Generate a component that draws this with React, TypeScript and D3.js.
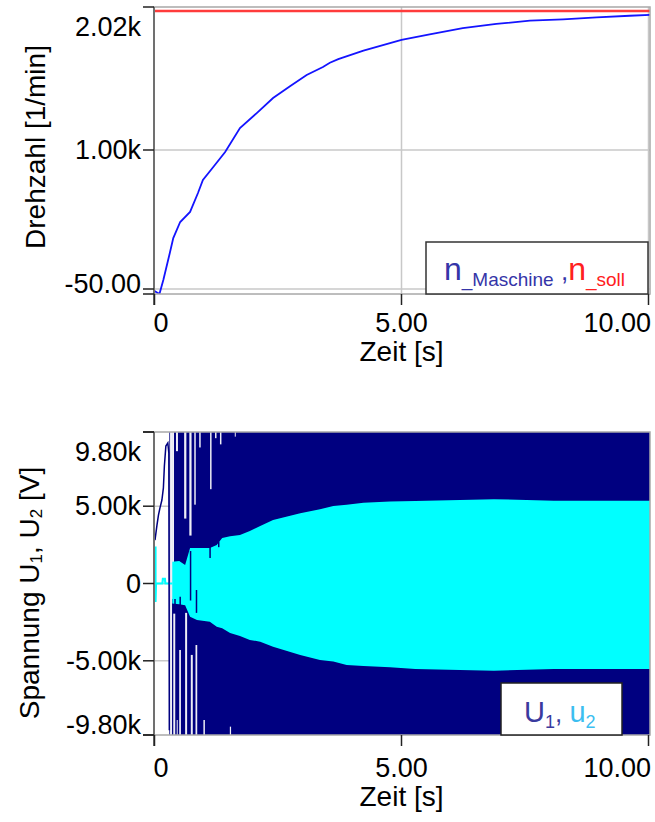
import React from "react";
import * as d3 from "d3";

// --- Drehzahl (oben) ---
const nTime = [0, 0.1, 0.18, 0.31, 0.38, 0.52, 0.72, 0.88, 0.98, 1.19, 1.43, 1.73, 2.07, 2.4, 2.75, 3.08, 3.41, 3.55, 3.72, 4.23, 5.0, 5.57, 6.24, 6.92, 7.6, 8.27, 8.95, 9.62, 10.03];
const nMaschine = [-65, -88, 20, 222, 335, 456, 532, 675, 773, 872, 985, 1166, 1279, 1393, 1483, 1567, 1627, 1659, 1687, 1750, 1831, 1874, 1920, 1952, 1977, 1987, 2002, 2014, 2020];
const nSollTime = [0, 10.05];
const nSoll = [2050, 2050];
const topYTicks = [-50, 1000];
const topYLabels = ["-50.00", "1.00k"];
const topYMaxLabel = "2.02k";

// --- Spannung (unten) ---
const u1StartT = [0.01, 0.05, 0.08, 0.11, 0.15, 0.18, 0.2, 0.23, 0.27, 0.29, 0.3];
const u1Start = [2800, 3780, 4430, 4880, 5400, 6180, 7600, 8890, 9090, 8440, -9500];
const u1BandT = [0.3, 10.04];
// white gaps in the U1 band: [t0, t1, vHigh, vLow]
const u1Gaps = [
  [0.315, 0.355, 9800, -9800],
  [0.355, 0.395, 9800, -1000],
  [0.38, 0.42, -1950, -9800],
  [0.435, 0.475, 9800, 8560],
  [0.45, 0.47, -8830, -9800],
  [0.5, 0.535, -4300, -9800],
  [0.6, 0.645, 9800, 4200],
  [0.62, 0.66, -1900, -9800],
  [0.705, 0.75, 9800, 3100],
  [0.735, 0.775, -4620, -9800],
  [0.805, 0.835, 9800, 5100],
  [0.83, 0.865, -3980, -9800],
  [0.905, 0.935, 9800, 8800],
  [0.99, 1.02, -8830, -9800],
  [1.125, 1.155, 9800, 6100],
  [1.225, 1.255, 9800, 9400],
  [1.325, 1.355, 9800, 9000],
  [1.525, 1.55, -9260, -9800],
  [1.625, 1.645, 9800, 9500],
];
// U1 strokes crossing the u2 band: [t, v0, v1]
const u1Spikes = [
  [0.415, -1000, -1500],
  [0.52, -850, -1500],
  [0.73, 2100, -1100],
  [0.85, -420, -1900],
  [1.125, 2430, 1650],
  [1.3, 2700, 2350],
];
const u2StartT = [0.02, 0.02, 0.03, 0.16, 0.17, 0.21, 0.22, 0.36];
const u2Start = [2400, -1200, 0, 0, 300, 300, 0, 0];
const u2EnvT = [0.36, 0.5, 0.62, 0.72, 0.86, 1.12, 1.26, 1.37, 1.53, 1.73, 1.93, 2.14, 2.4, 2.95, 3.35, 3.62, 3.89, 4.23, 4.77, 5.28, 6.87, 8.08, 10.04];
const u2Upper = [1400, 1450, 1200, 2300, 2300, 2300, 2490, 2940, 3050, 3140, 3400, 3720, 4110, 4540, 4800, 5010, 5100, 5230, 5300, 5340, 5450, 5360, 5360];
const u2Lower = [-1300, -1350, -1400, -2150, -2360, -2470, -2790, -2900, -3200, -3400, -3650, -3760, -4090, -4620, -4950, -5050, -5270, -5330, -5420, -5530, -5640, -5530, -5530];
const botYTicks = [9800, 5000, 0, -5000, -9800];
const botYLabels = ["9.80k", "5.00k", "0", "-5.00k", "-9.80k"];

const xTicks = [0, 5, 10];
const xLabels = ["0", "5.00", "10.00"];

const FONT = "'Liberation Sans', Arial, sans-serif";
const LEFT = 154;
const RIGHT = 650;

const x = d3.scaleLinear().domain([0, 10]).range([154.5, 648.5]);

function Axes({ top, bottom, yPos, labels, maxLabel, shift }: any) {
  return (
    <g fontFamily={FONT} fontSize={27} fill="#000">
      <rect x={LEFT} y={top} width={RIGHT - LEFT} height={bottom - top} fill="none" stroke="#a8a8a8" strokeWidth={1.5} />
      <line x1={LEFT} x2={LEFT} y1={top} y2={bottom + 11} stroke="#707070" strokeWidth={2} />
      {[top, bottom].map((y, i) => (
        <line key={"e" + i} x1={143} x2={LEFT} y1={y} y2={y} stroke="#222" strokeWidth={1.5} />
      ))}
      {yPos.map((y: number, i: number) => (
        <line key={"t" + i} x1={143} x2={LEFT} y1={y} y2={y} stroke="#222" strokeWidth={1.5} />
      ))}
      {yPos.map((y: number, i: number) => (
        <text key={"l" + i} x={141} y={Math.max(top + 20, Math.min(bottom - 10, y))} textAnchor="end" dominantBaseline="central">
          {labels[i]}
        </text>
      ))}
      {maxLabel && (
        <text x={141} y={top + 20} textAnchor="end" dominantBaseline="central">
          {maxLabel}
        </text>
      )}
      {xTicks.map((t, i) => (
        <line key={"x" + i} x1={x(t)} x2={x(t)} y1={bottom} y2={bottom + 11} stroke="#222" strokeWidth={1.5} />
      ))}
      {xTicks.map((t, i) => (
        <text
          key={"xl" + i}
          x={i === 0 ? x(t) - 1 : i === xTicks.length - 1 ? RIGHT + 1 : x(t)}
          y={bottom + 38 + shift}
          textAnchor={i === 0 ? "start" : i === xTicks.length - 1 ? "end" : "middle"}
        >
          {xLabels[i]}
        </text>
      ))}
      <text x={x(5)} y={bottom + 67 + shift} textAnchor="middle" fontSize={28}>
        Zeit [s]
      </text>
    </g>
  );
}

export default function App() {
  // top chart
  const tTop = 7;
  const tBot = 294;
  const yTop = d3.scaleLinear().domain([-50, 1000]).range([289, 150]);
  const nLine = d3
    .line<number>()
    .x((_, i) => x(nTime[i]))
    .y((d) => yTop(d));
  const sollLine = d3
    .line<number>()
    .x((_, i) => x(nSollTime[i]))
    .y((d) => yTop(d));

  // bottom chart
  const bTop = 432;
  const bBot = 735;
  const yBot = d3.scaleLinear().domain([-9800, 9800]).range([bBot, bTop]);
  const band = d3
    .area<number>()
    .x((d) => x(d))
    .y0(yBot(-9800))
    .y1(yBot(9800));
  const env = d3
    .area<number>()
    .x((d) => x(d))
    .y0((_, i) => yBot(u2Lower[i]))
    .y1((_, i) => yBot(u2Upper[i]));
  const u1StartLine = d3
    .line<number>()
    .x((_, i) => x(u1StartT[i]))
    .y((d) => yBot(d));
  const u2StartLine = d3
    .line<number>()
    .x((_, i) => x(u2StartT[i]))
    .y((d) => yBot(d));

  return (
    <svg width={655} height={822} style={{ position: "absolute", left: 0, top: 0, background: "#fff" }}>
      <defs>
        <clipPath id="clipTop">
          <rect x={LEFT} y={tTop} width={RIGHT - LEFT} height={tBot - tTop} />
        </clipPath>
        <clipPath id="clipBot">
          <rect x={LEFT} y={bTop} width={RIGHT - LEFT} height={bBot - bTop} />
        </clipPath>
      </defs>

      {/* ---------- oben ---------- */}
      <g stroke="#c8c8c8" strokeWidth={1.5}>
        {topYTicks.map((v) => (
          <line key={v} x1={LEFT} x2={RIGHT} y1={yTop(v)} y2={yTop(v)} />
        ))}
        {xTicks.slice(1).map((t) => (
          <line key={t} x1={x(t)} x2={x(t)} y1={tTop} y2={tBot} />
        ))}
      </g>
      <g clipPath="url(#clipTop)" fill="none">
        <path d={sollLine(nSoll) || ""} stroke="#ff3b3b" strokeWidth={2.5} />
        <path d={nLine(nMaschine) || ""} stroke="#1414ff" strokeWidth={1.8} />
      </g>
      <Axes top={tTop} bottom={tBot} yPos={topYTicks.map((v) => yTop(v))} labels={topYLabels} maxLabel={topYMaxLabel} shift={0} />
      <text transform="translate(45,147) rotate(-90)" textAnchor="middle" fontFamily={FONT} fontSize={28}>
        Drehzahl [1/min]
      </text>
      <g fontFamily={FONT}>
        <rect x={426} y={242} width={222} height={52} fill="#fff" stroke="#333" strokeWidth={1.5} />
        <text x={444} y={280}>
          <tspan fill="#3535a8" fontSize={32}>n</tspan>
          <tspan fill="#3535a8" fontSize={19} dy={6}>_Maschine</tspan>
          <tspan fill="#3535a8" fontSize={26} dy={-6}> ,</tspan>
          <tspan fill="#ff2020" fontSize={32}>n</tspan>
          <tspan fill="#ff2020" fontSize={19} dy={6}>_soll</tspan>
        </text>
      </g>

      {/* ---------- unten ---------- */}
      <g stroke="#c8c8c8" strokeWidth={1.5}>
        {botYTicks.slice(1, -1).map((v) => (
          <line key={v} x1={LEFT} x2={RIGHT} y1={yBot(v)} y2={yBot(v)} />
        ))}
      </g>
      <g clipPath="url(#clipBot)">
        <path d={band(u1BandT) || ""} fill="#000080" />
        {u1Gaps.map((g, i) => (
          <rect key={i} x={x(g[0])} width={x(g[1]) - x(g[0])} y={yBot(g[2])} height={yBot(g[3]) - yBot(g[2])} fill="#eeeef6" />
        ))}
        <path d={u2StartLine(u2Start) || ""} fill="none" stroke="#00ffff" strokeWidth={2.2} />
        <path d={env(u2EnvT) || ""} fill="#00ffff" />
        {u1Spikes.map((s, i) => (
          <line key={i} x1={x(s[0])} x2={x(s[0])} y1={yBot(s[1])} y2={yBot(s[2])} stroke="#000080" strokeWidth={1.5} />
        ))}
        <path d={u1StartLine(u1Start) || ""} fill="none" stroke="#000080" strokeWidth={1.5} />
      </g>
      <Axes top={bTop} bottom={bBot} yPos={botYTicks.map((v) => yBot(v))} labels={botYLabels} shift={4} />
      <text transform="translate(39,593) rotate(-90)" textAnchor="middle" fontFamily={FONT} fontSize={28}>
        Spannung U<tspan fontSize={17} dy={3}>1</tspan>
        <tspan dy={-3}>, U</tspan>
        <tspan fontSize={17} dy={3}>2</tspan>
        <tspan dy={-3}> [V]</tspan>
      </text>
      <g fontFamily={FONT}>
        <rect x={501} y={683} width={121} height={52} fill="#fff" stroke="#222" strokeWidth={1.5} />
        <text x={524} y={722}>
          <tspan fill="#3a3a9e" fontSize={29}>U</tspan>
          <tspan fill="#3a3a9e" fontSize={18} dy={6}>1</tspan>
          <tspan fill="#3a3a9e" fontSize={26} dy={-6}>, </tspan>
          <tspan fill="#3cbef0" fontSize={29}>u</tspan>
          <tspan fill="#3cbef0" fontSize={18} dy={6}>2</tspan>
        </text>
      </g>
    </svg>
  );
}
